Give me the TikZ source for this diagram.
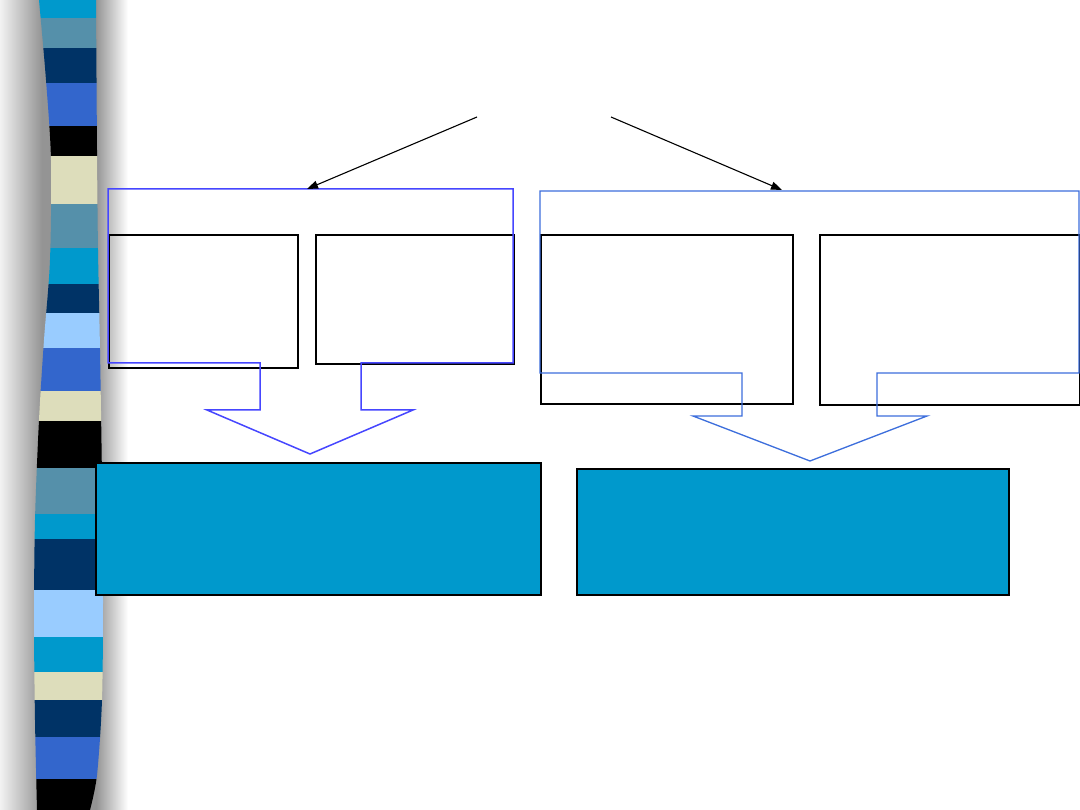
\documentclass[tikz,border=0pt]{standalone}
\usetikzlibrary{arrows.meta}
\definecolor{cyanS}{RGB}{0,153,204}
\definecolor{steelS}{RGB}{85,144,170}
\definecolor{navyS}{RGB}{0,51,102}
\definecolor{royalS}{RGB}{51,102,204}
\definecolor{paleS}{RGB}{221,221,187}
\definecolor{lightS}{RGB}{153,204,255}
\definecolor{blueL}{RGB}{70,70,255}
\definecolor{blueR}{RGB}{60,110,220}
\definecolor{tealF}{RGB}{0,153,204}
\begin{document}
\begin{tikzpicture}[x=1pt,y=-1pt,
  whitebox/.style={draw=black,line width=1.7pt,inner sep=0pt,anchor=north west,fill=none},
  tealbox/.style={draw=black,line width=2pt,inner sep=0pt,anchor=north west,fill=tealF},
  leftcallout/.style={draw=blueL,line width=1.5pt,line join=miter},
  rightcallout/.style={draw=blueR,line width=1.3pt,line join=miter},
  pointer/.style={draw=black,line width=1.1pt,-{Triangle[length=11pt,width=8pt]}}]
\useasboundingbox (0,0) rectangle (1080,810);
\fill[white] (0,0) rectangle (1080,810);
% shadow of the side bar
\shade[left color=black!5, right color=black!42] (0,0) rectangle (42,810);
\fill[black!42] (42,0) rectangle (96,810);
\shade[left color=black!42, right color=white] (96,0) rectangle (128,810);
% striped side bar
\begin{scope}
\clip plot[smooth] coordinates {(39,0) (46,80) (51,160) (50,260) (44,340) (39,420) (35,520) (34,620) (35,720) (37,810)}
  -- plot[smooth] coordinates {(90,810) (97,775) (102,700) (103,600) (102,480) (100,350) (98,250) (97,150) (96,0)} -- cycle;
\foreach \a/\b/\c in {0/18/cyanS, 18/48/steelS, 48/83/navyS, 83/126/royalS, 126/156/black,
  156/204/paleS, 204/248/steelS, 248/284/cyanS, 284/313/navyS, 313/348/lightS, 348/391/royalS,
  391/421/paleS, 421/468/black, 468/514/steelS, 514/539/cyanS, 539/590/navyS, 590/637/lightS,
  637/672/cyanS, 672/700/paleS, 700/737/navyS, 737/779/royalS, 779/811/black}
  \fill[\c] (20,\a) rectangle (120,\b);
\end{scope}
% white boxes
\node[whitebox,minimum width=189pt,minimum height=133pt] (L1) at (108,234) {};
\node[whitebox,minimum width=198pt,minimum height=129pt] (L2) at (315,234) {};
\node[whitebox,minimum width=252pt,minimum height=169pt] (R1) at (540,234) {};
\node[whitebox,minimum width=260pt,minimum height=170pt] (R2) at (819,234) {};
% callout outlines
\draw[leftcallout] (108,189) -- (513,189) -- (513,363) -- (361,363) -- (361,410) -- (413,410)
  -- (310,454) -- (207,410) -- (260,410) -- (260,363) -- (108,363) -- cycle;
\draw[rightcallout] (540,191) -- (1079,191) -- (1079,373) -- (877,373) -- (877,416) -- (927,416)
  -- (810,461) -- (693,416) -- (742,416) -- (742,373) -- (540,373) -- cycle;
% teal result boxes
\node[tealbox,minimum width=445pt,minimum height=132pt] (T1) at (95,462) {};
\node[tealbox,minimum width=432pt,minimum height=126pt] (T2) at (576,468) {};
% pointers
\coordinate (s1) at (477,117);
\coordinate (s2) at (611,117);
\coordinate (e1) at (307,189);
\coordinate (e2) at (782,190);
\draw[pointer] (s1) -- (e1);
\draw[pointer] (s2) -- (e2);
\end{tikzpicture}
\end{document}
